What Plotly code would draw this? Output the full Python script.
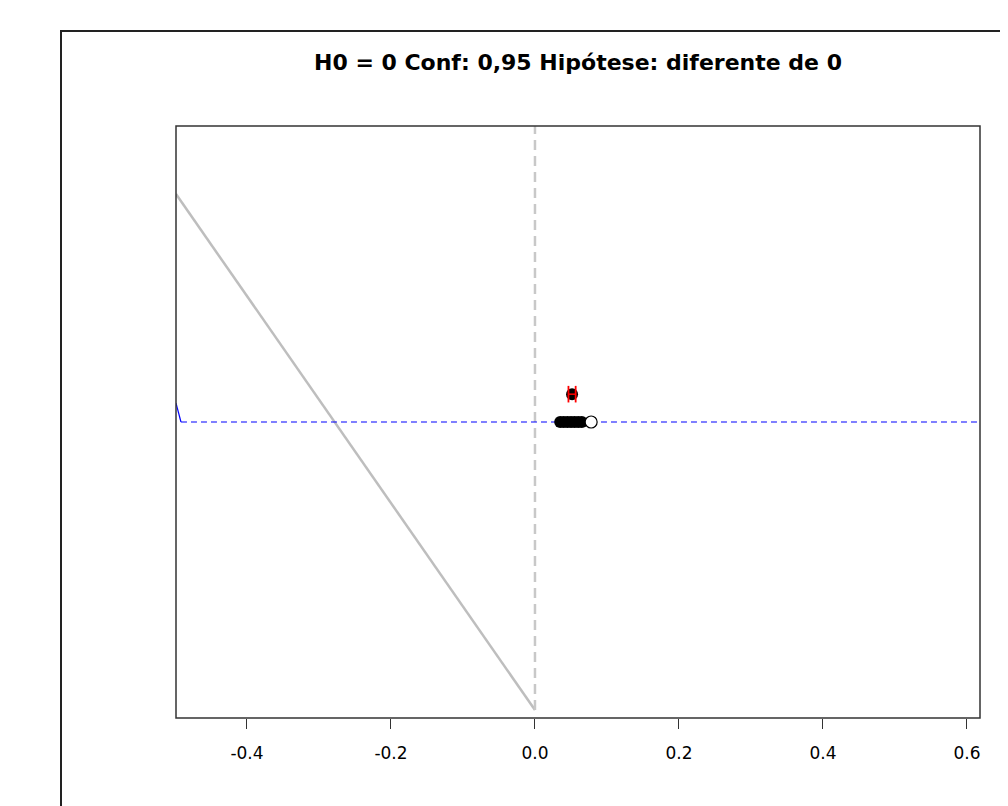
import plotly.graph_objects as go

# Data
gray_x = [-0.4986, 0.0]
gray_y = [0.885, 0.0135]
blue_solid_x = [-0.4986, -0.4917]
blue_solid_y = [0.532, 0.5]
blue_dash_x = [-0.4917, 0.62]
blue_dash_y = [0.5, 0.5]
cluster_x = [0.035, 0.040, 0.045, 0.050, 0.055, 0.060, 0.065]
cluster_y = [0.5, 0.5, 0.5, 0.5, 0.5, 0.5, 0.5]
open_x = [0.078]
open_y = [0.5]
est_x = [0.0515]
est_y = [0.547]
est_lo = [0.0465]
est_hi = [0.0565]
h0 = 0.0
tick_vals = [-0.4, -0.2, 0.0, 0.2, 0.4, 0.6]
tick_text = ["-0.4", "-0.2", "0.0", "0.2", "0.4", "0.6"]
title = "H0 = 0 Conf: 0,95 Hipótese: diferente de 0"

fig = go.Figure()
fig.add_trace(go.Scatter(x=gray_x, y=gray_y, mode="lines",
                         line=dict(color="#bebebe", width=2.5), hoverinfo="skip"))
fig.add_trace(go.Scatter(x=[h0, h0], y=[0.0135, 1.0], mode="lines",
                         line=dict(color="#c8c8c8", width=2.5, dash="10px,6px"), hoverinfo="skip"))
fig.add_trace(go.Scatter(x=blue_solid_x, y=blue_solid_y, mode="lines",
                         line=dict(color="#0000ff", width=1.2)))
fig.add_trace(go.Scatter(x=blue_dash_x, y=blue_dash_y, mode="lines",
                         line=dict(color="#0000ff", width=1.2, dash="6px,4px")))
fig.add_trace(go.Scatter(x=cluster_x, y=cluster_y, mode="markers",
                         marker=dict(color="black", size=12, symbol="circle")))
fig.add_trace(go.Scatter(x=open_x, y=open_y, mode="markers",
                         marker=dict(color="white", size=12, symbol="circle",
                                     line=dict(color="black", width=1.2))))
fig.add_trace(go.Scatter(x=est_x, y=est_y, mode="markers",
                         marker=dict(color="black", size=12, symbol="circle")))
# red interval with caps
for lo, hi, yv in zip(est_lo, est_hi, est_y):
    fig.add_trace(go.Scatter(x=[lo, hi], y=[yv, yv], mode="lines",
                             line=dict(color="red", width=1.5)))
    fig.add_trace(go.Scatter(x=[lo, lo], y=[yv - 0.014, yv + 0.014], mode="lines",
                             line=dict(color="red", width=1.8)))
    fig.add_trace(go.Scatter(x=[hi, hi], y=[yv - 0.014, yv + 0.014], mode="lines",
                             line=dict(color="red", width=1.8)))

# page body has an 8px margin; compensate
OFF = 8
W, H = 1008 - OFF, 806 - OFF
L, R, T, B = 176 - OFF, 28, 126 - OFF, 88
pw, ph = W - L - R, H - T - B

fig.update_layout(
    width=W, height=H, showlegend=False,
    paper_bgcolor="white", plot_bgcolor="white",
    margin=dict(l=L, r=R, t=T, b=B, autoexpand=False),
    font=dict(family="DejaVu Sans, Liberation Sans, Arial, sans-serif", size=17, color="black"),
    title=dict(text="<b>" + title + "</b>", x=(578 - OFF) / W, xanchor="center",
               y=1 - (62 - OFF) / H, yanchor="middle", font=dict(size=22)),
    xaxis=dict(range=[-0.4986, 0.6181], tickvals=tick_vals, ticktext=tick_text,
               showgrid=False, zeroline=False, ticks="outside", ticklen=10,
               tickcolor="#333", tickwidth=1, showline=False,
               ticklabelstandoff=10, tickfont=dict(size=17)),
    yaxis=dict(range=[0, 1], showgrid=False, zeroline=False, showticklabels=False,
               ticks="", showline=False),
)
# plot box
fig.add_shape(type="rect", xref="paper", yref="paper", x0=0, x1=1, y0=0, y1=1,
              line=dict(color="#333", width=1.5))
# outer box
fig.add_shape(type="rect", xref="paper", yref="paper",
              x0=(61 - OFF - L) / pw, x1=(1030 - OFF - L) / pw,
              y0=(T + ph - 830) / ph, y1=(T + ph - (31 - OFF)) / ph,
              line=dict(color="#222", width=2))
fig.write_html("out.html")
